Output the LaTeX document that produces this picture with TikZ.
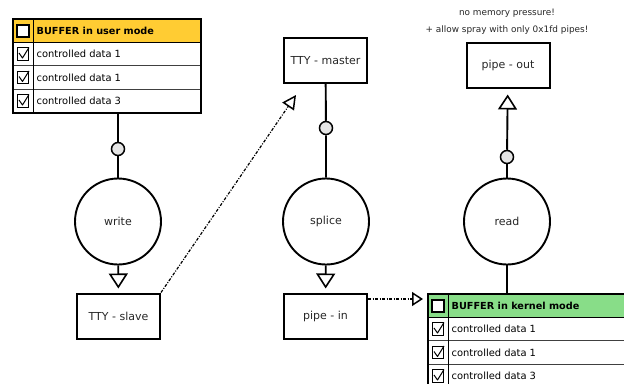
\documentclass[tikz,border=0pt]{standalone}
\usepackage{fontspec}
\setmainfont{DejaVu Sans}
\usetikzlibrary{arrows.meta}

\definecolor{userorange}{RGB}{255,204,51}
\definecolor{kerngreen}{RGB}{136,221,136}

% buffer table: name, corner, width, fill, title
\newcommand\buftable[5]{%
  \begin{scope}[shift={#2}]
    \fill[#4] (0,0) rectangle (#3,24.5);
    \draw[rowline] (0,47.5) -- (#3,47.5) (0,71.5) -- (#3,71.5);
    \draw[line width=1.5pt] (0,24.5) -- (#3,24.5);
    \draw[line width=1.3pt] (21.5,0) -- (21.5,94);
    \node[tblframe, minimum width=#3pt, anchor=north west] (#1) at (0,0) {};
    \node[tblhead] (#1-title) at (24.5,12.5) {#5};
    \node[emptybox] (#1-box) at (11,13) {};
    \foreach \y/\t [count=\i] in {36/controlled data 1, 59.5/controlled data 1, 83/controlled data 3} {
      \node[tblrow] (#1-row\i) at (24.5,\y) {\t};
      \node[checkbox] (#1-chk\i) at (11,\y) {};
      \draw[tick] (#1-chk\i.center) ++(-4,-1) -- ++(3.5,5) -- ++(6.5,-10.5);
    }
  \end{scope}}

\begin{document}
\begin{tikzpicture}[x=1pt,y=-1pt,
    box/.style={draw, line width=2pt, minimum width=83pt, minimum height=45pt,
      inner sep=0pt, text=black!85, font=\fontsize{11}{13}\selectfont},
    proc/.style={circle, draw, line width=1.9pt, minimum size=86pt, inner sep=0pt,
      text=black!85, font=\fontsize{11}{13}\selectfont},
    joint/.style={circle, draw, line width=1.5pt, fill=black!10, minimum size=13pt, inner sep=0pt},
    wire/.style={line width=1.9pt},
    flow/.style={wire, -{Triangle[open, fill=white, length=15pt, width=19pt, line width=1.6pt]}, shorten >=4pt},
    link/.style={line width=1.2pt, dash pattern=on 3pt off 1.5pt on 1pt off 1.5pt},
    note/.style={text=black!85, font=\fontsize{8.9}{10}\selectfont},
    tblframe/.style={draw, line width=2.4pt, minimum height=94pt, inner sep=0pt},
    rowline/.style={line width=0.9pt, black!75},
    tblhead/.style={anchor=west, inner sep=0pt, font=\bfseries\fontsize{9.7}{11}\selectfont},
    tblrow/.style={anchor=west, inner sep=0pt, font=\fontsize{9.9}{11}\selectfont},
    emptybox/.style={draw, fill=white, line width=1.5pt, minimum width=12pt, minimum height=12pt, inner sep=0pt},
    checkbox/.style={draw, line width=1.3pt, minimum width=11pt, minimum height=12.5pt, inner sep=0pt},
    tick/.style={line width=1pt, line join=round}]
  \useasboundingbox (0,0) rectangle (624,383);

  % buffers
  \buftable{ubuf}{(12,18)}{188}{userorange}{BUFFER in user mode}
  \buftable{kbuf}{(427,293)}{205}{kerngreen}{BUFFER in kernel mode}

  % syscalls
  \node[proc] (write) at (118,221.5) {write};
  \node[proc] (splice) at (326,221.5) {splice};
  \node[proc] (read) at (507,221.5) {read};

  % endpoints
  \node[box] (tslave) at (118.5,316) {TTY - slave};
  \node[box] (tmaster) at (325.5,60.5) {TTY - master};
  \node[box] (pin) at (325.5,316) {pipe - in};
  \node[box] (pout) at (508,65) {pipe - out};

  \node[joint] (j1) at (118,149) {};
  \node[joint] (j2) at (326,128) {};
  \node[joint] (j3) at (507,157) {};

  \node[note] (n1) at (507,13) {no memory pressure!};
  \node[note] (n2) at (507,30) {+ allow spray with only 0x1fd pipes!};

  \coordinate (mtip) at (296,95);
  \coordinate (ktip) at (423,299);

  \draw[wire] (write |- ubuf.south) -- (j1) -- (write);
  \draw[flow] (write) -- (tslave);
  \draw[wire] (tmaster) -- (j2) -- (splice);
  \draw[flow] (splice) -- (pin);
  \draw[wire] (read |- kbuf.north) -- (read);
  \draw[wire] (read) -- (j3);
  \draw[flow, shorten >=6pt] (j3) -- (pout);

  \draw[link, -{Triangle[open, fill=white, length=14pt, width=14pt, line width=1.5pt]}] (tslave.north east) -- (mtip);
  \draw[link, -{Triangle[open, fill=white, length=11pt, width=14pt, line width=1.5pt]}] (pin.east |- ktip) -- (ktip);
\end{tikzpicture}
\end{document}
